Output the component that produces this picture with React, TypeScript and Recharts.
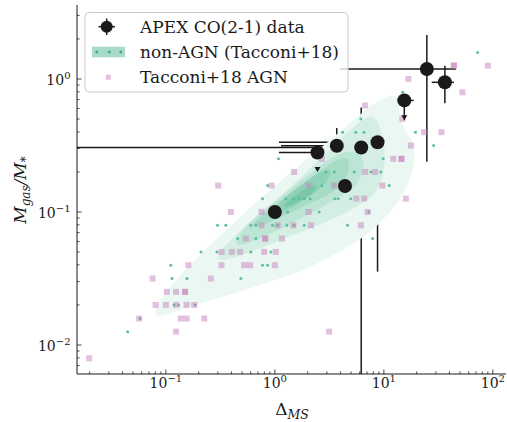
import React from 'react';
import { ScatterChart, Scatter, XAxis, YAxis, ErrorBar, Curve } from 'recharts';

const FONT = '"DejaVu Serif", serif';
const INK = '#1a1a1a';

const X_DOMAIN: [number, number] = [0.0153, 132];
const Y_DOMAIN: [number, number] = [0.00605, 3.6];

// APEX CO(2-1) sample (Delta_MS, Mgas/M*), with error ranges
const apexDelta = [1.0, 2.46, 3.7, 6.2, 8.75, 4.4, 15.4, 24.8, 36.3];
const apexRatio = [0.1, 0.28, 0.315, 0.305, 0.334, 0.157, 0.69, 1.19, 0.944];
const apexDeltaLo = [0.856, 1.09, 1.14, 0.0153, 1.09, 1.37, 12.0, 3.95, 27.5];
const apexDeltaHi = [1.21, 3.5, 12.4, 7.7, 16.5, 7.45, 18.8, 45.8, 43.9];
const apexRatioLo = [0.068, 0.2, 0.218, 0.00605, 0.0356, 0.0566, 0.49, 0.239, 0.656];
const apexRatioHi = [0.132, 0.28, 0.428, 0.61, 0.64, 0.26, 0.69, 2.14, 1.26];
const apexUpperLimit = [false, true, false, false, false, false, true, false, false];

// Tacconi+18 AGN
const agnDelta = [
  43.9, 43.9, 90, 16.8, 52.5, 6.74, 14.8, 23.4, 33.8, 17.7, 12.2, 14.5, 14.5, 2.7, 1.5, 6.74, 8.3, 9.7, 15.9,
  0.302, 0.933, 2.04, 3.5, 5.6, 6.6, 0.395, 0.755, 2.04, 7.1, 0.755, 1.06, 1.48, 2.14, 6.15,
  0.542, 0.815, 0.815, 1.16, 0.324, 0.403, 0.48, 0.798, 1.02, 0.324, 0.523, 0.593, 1.0, 0.161,
  0.259, 0.0755, 0.102, 0.124, 0.15, 0.15, 0.0805, 0.1, 0.124, 0.155, 0.182, 0.0569, 0.137, 0.155, 0.225,
  0.124, 3.15, 0.0198,
];
const agnRatio = [
  1.26, 1.26, 1.26, 1.0, 0.794, 0.631, 0.501, 0.398, 0.398, 0.316, 0.251, 0.251, 0.251, 0.251, 0.2, 0.2, 0.2, 0.158, 0.126,
  0.158, 0.158, 0.158, 0.158, 0.126, 0.126, 0.1, 0.1, 0.1, 0.1, 0.0794, 0.0794, 0.0794, 0.0794, 0.0794,
  0.0631, 0.0631, 0.0631, 0.0631, 0.0501, 0.0501, 0.0501, 0.0501, 0.0501, 0.0398, 0.0398, 0.0398, 0.0398, 0.0398,
  0.0316, 0.0316, 0.0251, 0.0251, 0.0251, 0.0251, 0.02, 0.02, 0.02, 0.02, 0.02, 0.0158, 0.0158, 0.0158, 0.0158,
  0.0126, 0.0126, 0.00794,
];

// Tacconi+18 non-AGN
const nonAgnDelta = [
  72.4, 14.9, 6.15, 4.18, 5.53, 6.56, 19.5, 28.6, 1.08, 9.86, 2.94, 3.5, 5.34, 7.6, 9.38, 0.857, 2.7, 11.2,
  0.771, 1.26, 1.49, 1.67, 1.86, 2.11, 3.55, 3.81, 4.98, 1.31, 2.55, 7.28, 0.298, 0.355, 0.602, 0.67, 0.953,
  1.06, 1.29, 1.5, 1.86, 4.64, 0.455, 0.67, 7.88, 0.21, 0.294, 0.602, 0.919, 0.111, 0.771, 0.857, 0.114,
  0.156, 0.488, 0.119, 0.131, 0.186, 0.058, 0.0446,
];
const nonAgnRatio = [
  1.58, 0.794, 0.501, 0.398, 0.398, 0.398, 0.398, 0.316, 0.251, 0.251, 0.2, 0.2, 0.2, 0.2, 0.2, 0.158, 0.158, 0.158,
  0.126, 0.126, 0.126, 0.126, 0.126, 0.126, 0.126, 0.126, 0.126, 0.1, 0.1, 0.1, 0.0794, 0.0794, 0.0794, 0.0794, 0.0794,
  0.0794, 0.0794, 0.0794, 0.0794, 0.0794, 0.0631, 0.0631, 0.0631, 0.0501, 0.0501, 0.0501, 0.0501, 0.0398, 0.0398, 0.0398, 0.0316,
  0.0316, 0.0316, 0.02, 0.02, 0.02, 0.0158, 0.0126,
];

// KDE contour levels of the non-AGN sample, vertices as [log10 Delta, log10 ratio], outer to inner
const kdeLevels: number[][][] = [
  [[-1.13, -1.79], [-1.05, -1.65], [-0.91, -1.51], [-0.71, -1.34], [-0.4, -1.1], [-0.1, -0.87], [0.21, -0.66],
   [0.51, -0.46], [0.76, -0.28], [0.93, -0.17], [1.05, -0.12], [1.13, -0.13], [1.14, -0.23], [1.16, -0.36],
   [1.25, -0.44], [1.29, -0.53], [1.27, -0.68], [1.2, -0.84], [1.11, -0.95], [0.97, -1.08], [0.82, -1.19],
   [0.51, -1.34], [0.21, -1.46], [-0.1, -1.54], [-0.4, -1.62], [-0.71, -1.69], [-1.02, -1.78]],
  [[-0.58, -1.37], [-0.4, -1.2], [-0.1, -0.98], [0.21, -0.77], [0.51, -0.52], [0.76, -0.33], [0.88, -0.27],
   [0.95, -0.31], [1.01, -0.5], [1.01, -0.68], [0.95, -0.84], [0.82, -0.93], [0.58, -1.04], [0.21, -1.16],
   [-0.1, -1.26], [-0.4, -1.36]],
  [[-0.39, -1.24], [-0.25, -1.08], [0.06, -0.89], [0.36, -0.68], [0.63, -0.53], [0.79, -0.55], [0.83, -0.66],
   [0.76, -0.81], [0.51, -0.93], [0.21, -1.06], [-0.1, -1.19], [-0.31, -1.26]],
  [[-0.23, -1.11], [-0.1, -1.01], [0.21, -0.81], [0.51, -0.63], [0.67, -0.57], [0.7, -0.68], [0.58, -0.84],
   [0.33, -0.93], [0.06, -1.04], [-0.16, -1.11]],
  [[-0.06, -1.04], [0.06, -0.91], [0.27, -0.78], [0.49, -0.66], [0.53, -0.7], [0.45, -0.81], [0.27, -0.91],
   [0.06, -1.01]],
  [[0.07, -0.95], [0.24, -0.84], [0.39, -0.78], [0.38, -0.85], [0.21, -0.93], [0.09, -0.97]],
];
const kdeFills = ['#ebf7f2', '#d4eee4', '#bde5d5', '#a6dbc6', '#8fd2b8', '#79c9a9'];

const xMajor = [0.1, 1, 10, 100];
const yMajor = [0.01, 0.1, 1];

const logTicks = (domain: [number, number]) => {
  const out: number[] = [];
  for (let e = Math.floor(Math.log10(domain[0])); e <= Math.ceil(Math.log10(domain[1])); e++) {
    for (let m = 1; m < 10; m++) {
      const v = Number((m * Math.pow(10, e)).toPrecision(6));
      if (v >= domain[0] && v <= domain[1]) out.push(v);
    }
  }
  return out;
};
const xTicks = logTicks(X_DOMAIN);
const yTicks = logTicks(Y_DOMAIN);
const isMajor = (v: number, majors: number[]) => majors.some((m) => Math.abs(m - v) / m < 1e-6);
const expText = (v: number) => {
  const e = Math.round(Math.log10(v));
  return e < 0 ? `\u2212${-e}` : `${e}`;
};

const apexData = apexDelta.map((x, i) => ({
  x,
  y: apexRatio[i],
  xErr: [x - apexDeltaLo[i], apexDeltaHi[i] - x],
  yErr: [apexRatio[i] - apexRatioLo[i], apexRatioHi[i] - apexRatio[i]],
}));
const limitTips = apexDelta
  .map((x, i) => ({ x, y: apexRatioLo[i] }))
  .filter((_, i) => apexUpperLimit[i]);
const agnData = agnDelta.map((x, i) => ({ x, y: agnRatio[i] }));
const nonAgnData = nonAgnDelta.map((x, i) => ({ x, y: nonAgnRatio[i] }));
const kdeData = kdeLevels.map((lvl) => lvl.map(([lx, ly]) => ({ x: Math.pow(10, lx), y: Math.pow(10, ly) })));

const TickLabel = ({ x, y, v, anchor }: { x: number; y: number; v: number; anchor: 'middle' | 'end' }) => (
  <text x={x} y={y} textAnchor={anchor} fontFamily={FONT} fontSize={14} fill={INK}>
    10<tspan dy={-6} fontSize={10}>{expText(v)}</tspan>
  </text>
);

const BottomTick = (p: any) => {
  const v = p.payload.value;
  const big = isMajor(v, xMajor);
  return (
    <g>
      <line x1={p.x} x2={p.x} y1={p.y} y2={p.y - (big ? 4.5 : 2.5)} stroke={INK} strokeWidth={0.8} />
      {big && <TickLabel x={p.x} y={p.y + 14} v={v} anchor="middle" />}
    </g>
  );
};
const TopTick = (p: any) => {
  const big = isMajor(p.payload.value, xMajor);
  return <line x1={p.x} x2={p.x} y1={p.y} y2={p.y + (big ? 4.5 : 2.5)} stroke={INK} strokeWidth={0.8} />;
};
const LeftTick = (p: any) => {
  const v = p.payload.value;
  const big = isMajor(v, yMajor);
  return (
    <g>
      <line x1={p.x} x2={p.x + (big ? 4.5 : 2.5)} y1={p.y} y2={p.y} stroke={INK} strokeWidth={0.8} />
      {big && <TickLabel x={p.x - 6.5} y={p.y + 6.5} v={v} anchor="end" />}
    </g>
  );
};
const RightTick = (p: any) => {
  const big = isMajor(p.payload.value, yMajor);
  return <line x1={p.x} x2={p.x - (big ? 4.5 : 2.5)} y1={p.y} y2={p.y} stroke={INK} strokeWidth={0.8} />;
};

const NoPoint = () => <g />;
const contourLine = (fill: string) => (props: any) => (
  <Curve points={props.points} type="basisClosed" fill={fill} stroke="none" />
);
const AgnSquare = (p: any) => (
  <rect x={p.cx - 3} y={p.cy - 3} width={6} height={6} fill="#c783bd" fillOpacity={0.5} />
);
const GreenDot = (p: any) => <circle cx={p.cx} cy={p.cy} r={1.5} fill="#5dbf9c" />;
const ApexDot = (p: any) => <circle cx={p.cx} cy={p.cy} r={7} fill={INK} />;
const ArrowHead = (p: any) => (
  <polygon points={`${p.cx - 3},${p.cy - 5} ${p.cx + 3},${p.cy - 5} ${p.cx},${p.cy}`} fill={INK} />
);

const axisLine = { stroke: INK, strokeWidth: 1 };

export default function App() {
  return (
    <div style={{ position: 'absolute', left: 0, top: 0, width: 507, height: 422, background: '#fff' }}>
      <ScatterChart width={507} height={422} margin={{ top: 5, right: 1, bottom: 0, left: 0 }}>
        <XAxis
          dataKey="x" type="number" scale="log" domain={X_DOMAIN} allowDataOverflow
          ticks={xTicks} interval={0} height={48} tickSize={0} tickMargin={0}
          tickLine={false} axisLine={axisLine} tick={<BottomTick />}
        />
        <XAxis
          xAxisId="top" orientation="top" dataKey="x" type="number" scale="log" domain={X_DOMAIN} allowDataOverflow
          ticks={xTicks} interval={0} height={0} tickSize={0} tickMargin={0}
          tickLine={false} axisLine={axisLine} tick={<TopTick />}
        />
        <YAxis
          dataKey="y" type="number" scale="log" domain={Y_DOMAIN} allowDataOverflow
          ticks={yTicks} interval={0} width={77} tickSize={0} tickMargin={0}
          tickLine={false} axisLine={axisLine} tick={<LeftTick />}
        />
        <YAxis
          yAxisId="right" orientation="right" dataKey="y" type="number" scale="log" domain={Y_DOMAIN} allowDataOverflow
          ticks={yTicks} interval={0} width={0} tickSize={0} tickMargin={0}
          tickLine={false} axisLine={axisLine} tick={<RightTick />}
        />
        {kdeData.map((pts, i) => (
          <Scatter
            key={`kde-${i}`} data={pts} shape={<NoPoint />} line={contourLine(kdeFills[i])}
            isAnimationActive={false} legendType="none"
          />
        ))}
        <Scatter data={nonAgnData} shape={<GreenDot />} isAnimationActive={false} />
        <Scatter data={agnData} shape={<AgnSquare />} isAnimationActive={false} />
        <Scatter data={apexData} shape={<ApexDot />} isAnimationActive={false}>
          <ErrorBar dataKey="xErr" direction="x" width={0} stroke={INK} strokeWidth={1.5} />
          <ErrorBar dataKey="yErr" direction="y" width={0} stroke={INK} strokeWidth={1.5} />
        </Scatter>
        <Scatter data={limitTips} shape={<ArrowHead />} isAnimationActive={false} />
      </ScatterChart>

      <svg
        width={507} height={422}
        style={{ position: 'absolute', left: 0, top: 0, pointerEvents: 'none' }}
      >
        <rect x={85} y={12.5} width={263} height={79.5} rx={4} fill="#fff" fillOpacity={0.8} stroke="#cccccc" strokeWidth={1} />
        <line x1={98.5} x2={115} y1={26.7} y2={26.7} stroke={INK} strokeWidth={1.5} />
        <line x1={106.7} x2={106.7} y1={18.5} y2={35} stroke={INK} strokeWidth={1.5} />
        <circle cx={106.7} cy={26.7} r={6} fill={INK} />
        <rect x={92} y={46.7} width={33} height={10.6} fill="#a8dcc9" />
        {[96.7, 109.3, 120.7].map((cx) => (
          <circle key={cx} cx={cx} cy={52} r={1.4} fill="#3aa981" />
        ))}
        <rect x={105.8} y={74.8} width={5} height={5} fill="#c783bd" fillOpacity={0.5} />
        <g fontFamily={FONT} fontSize={17} fill={INK}>
          <text x={140} y={32.5}>APEX CO(2-1) data</text>
          <text x={140} y={57.5}>non-AGN (Tacconi+18)</text>
          <text x={140} y={83}>Tacconi+18 AGN</text>
        </g>
        <text x={292} y={415} textAnchor="middle" fontFamily={FONT} fontSize={17} fill={INK}>
          {'\u0394'}
          <tspan dy={3.5} fontSize={12.5} fontStyle="italic">MS</tspan>
        </text>
        <text
          x={26} y={190} textAnchor="middle" transform="rotate(-90, 26, 190)"
          fontFamily={FONT} fontSize={17} fontStyle="italic" fill={INK}
        >
          M<tspan dy={3.5} fontSize={12}>gas</tspan>
          <tspan dy={-3.5}>/M</tspan>
          <tspan dy={3.5} fontSize={12}>*</tspan>
        </text>
      </svg>
    </div>
  );
}
